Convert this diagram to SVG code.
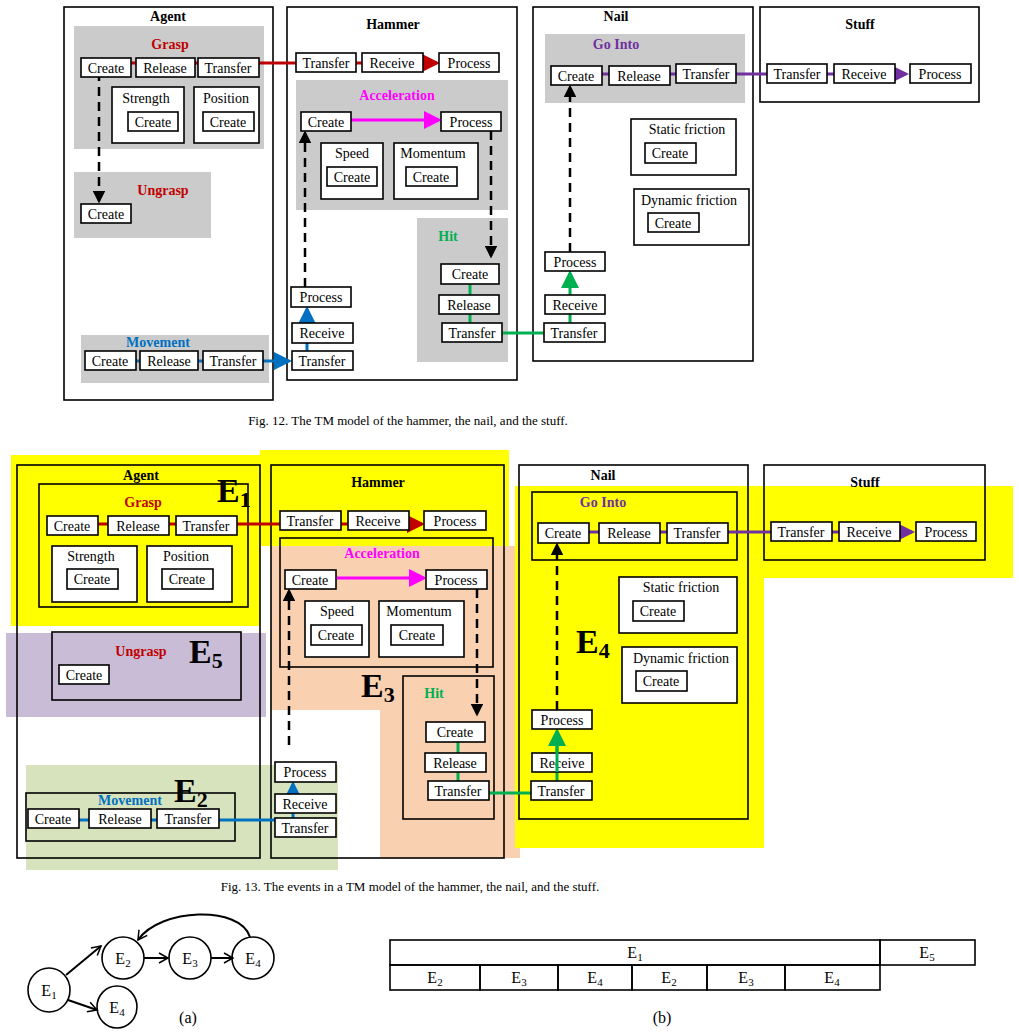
<svg xmlns="http://www.w3.org/2000/svg" width="1019" height="1035" viewBox="0 0 1019 1035">
<style>
.bx{fill:#fff;stroke:#000;stroke-width:1.6}
.ob{fill:none;stroke:#000;stroke-width:1.6}
.t{font-family:"Liberation Serif",serif;font-size:14px;text-anchor:middle;fill:#000}
.h{font-family:"Liberation Serif",serif;font-size:14px;font-weight:bold;text-anchor:middle}
.E{font-family:"Liberation Serif",serif;font-size:34px;font-weight:bold}
.cap{font-family:"Liberation Serif",serif;font-size:13px;text-anchor:middle}
.s{font-family:"Liberation Serif",serif;font-size:16px;text-anchor:middle}
.g{fill:#cbcbcb}
.dash{stroke:#000;stroke-width:2.5;stroke-dasharray:9,6;fill:none}
</style>
<defs>
<marker id="aR" markerWidth="6" markerHeight="6" refX="5" refY="3" orient="auto" markerUnits="strokeWidth"><path d="M0,0L6,3L0,6z" fill="#c00000"/></marker>
<marker id="aB" markerWidth="6" markerHeight="6" refX="5" refY="3" orient="auto" markerUnits="strokeWidth"><path d="M0,0L6,3L0,6z" fill="#0070c0"/></marker>
<marker id="aM" markerWidth="6" markerHeight="6" refX="5" refY="3" orient="auto" markerUnits="strokeWidth"><path d="M0,0L6,3L0,6z" fill="#ff00ff"/></marker>
<marker id="aG" markerWidth="6" markerHeight="6" refX="5" refY="3" orient="auto" markerUnits="strokeWidth"><path d="M0,0L6,3L0,6z" fill="#00b050"/></marker>
<marker id="aP" markerWidth="6" markerHeight="6" refX="5" refY="3" orient="auto" markerUnits="strokeWidth"><path d="M0,0L6,3L0,6z" fill="#7030a0"/></marker>
<marker id="aK" markerWidth="5" markerHeight="5" refX="4" refY="2.5" orient="auto" markerUnits="strokeWidth"><path d="M0,0L5,2.5L0,5z" fill="#000"/></marker>
<marker id="oa" markerWidth="12" markerHeight="12" refX="10" refY="6" orient="auto" markerUnits="userSpaceOnUse"><path d="M1,1L10,6L1,11" fill="none" stroke="#000" stroke-width="1.5"/></marker>
</defs>

<!-- ===== Fig 12 ===== -->
<g id="f12-containers">
<rect class="ob" x="64" y="7" width="209" height="393"/>
<text class="h" x="168" y="21">Agent</text>
<rect class="ob" x="287" y="7" width="230" height="373"/>
<text class="h" x="393" y="29">Hammer</text>
<rect class="ob" x="533" y="7" width="220" height="354"/>
<text class="h" x="616" y="21">Nail</text>
<rect class="ob" x="760" y="7" width="219" height="95"/>
<text class="h" x="860" y="29">Stuff</text>
<rect class="g" x="74" y="26" width="190" height="123"/>
<text class="h" x="170" y="49" fill="#c00000">Grasp</text>
<rect class="g" x="74" y="172" width="137" height="66"/>
<text class="h" x="163" y="195" fill="#c00000">Ungrasp</text>
<rect class="g" x="81" y="335" width="188" height="48"/>
<text class="h" x="158" y="347" fill="#0070c0">Movement</text>
<rect class="g" x="296" y="80" width="212" height="130"/>
<text class="h" x="397" y="100" fill="#ff00ff">Acceleration</text>
<rect class="g" x="417" y="218" width="91" height="144"/>
<text class="h" x="448" y="241" fill="#00b050">Hit</text>
<rect class="g" x="545" y="34" width="200" height="69"/>
<text class="h" x="616" y="49" fill="#7030a0">Go Into</text>
</g>

<g id="f12-connectors">
<line x1="110" y1="63" x2="437" y2="63" stroke="#c00000" stroke-width="3" marker-end="url(#aR)"/>
<line x1="99" y1="72" x2="99" y2="201" class="dash" marker-end="url(#aK)"/>
<line x1="110" y1="361" x2="289" y2="361" stroke="#0070c0" stroke-width="3" marker-end="url(#aB)"/>
<line x1="307" y1="352" x2="307" y2="309" stroke="#0070c0" stroke-width="3" marker-end="url(#aB)"/>
<line x1="305" y1="287" x2="305" y2="133" class="dash" marker-end="url(#aK)"/>
<line x1="351" y1="120" x2="439" y2="120" stroke="#ff00ff" stroke-width="3" marker-end="url(#aM)"/>
<line x1="491" y1="131" x2="491" y2="256" class="dash" marker-end="url(#aK)"/>
<line x1="470" y1="280" x2="470" y2="330" stroke="#00b050" stroke-width="3"/>
<line x1="502" y1="333" x2="545" y2="333" stroke="#00b050" stroke-width="3"/>
<line x1="570" y1="323" x2="570" y2="273" stroke="#00b050" stroke-width="3" marker-end="url(#aG)"/>
<line x1="570" y1="252" x2="570" y2="87" class="dash" marker-end="url(#aK)"/>
<line x1="590" y1="74" x2="906" y2="74" stroke="#7030a0" stroke-width="3" marker-end="url(#aP)"/>
</g>

<g id="f12-grasp">
<rect class="bx" x="81" y="58" width="50" height="19"/><text class="t" x="106" y="73">Create</text>
<rect class="bx" x="136" y="58" width="59" height="19"/><text class="t" x="165" y="73">Release</text>
<rect class="bx" x="198" y="58" width="61" height="19"/><text class="t" x="228" y="73">Transfer</text>
<rect class="bx" x="112" y="87" width="72" height="56"/><text class="t" x="146" y="103">Strength</text>
<rect class="bx" x="128" y="112" width="50" height="19"/><text class="t" x="153" y="127">Create</text>
<rect class="bx" x="194" y="87" width="65" height="56"/><text class="t" x="226" y="103">Position</text>
<rect class="bx" x="203" y="112" width="51" height="19"/><text class="t" x="228" y="127">Create</text>
</g>
<g id="f12-ungrasp"><rect class="bx" x="81" y="204" width="50" height="19"/><text class="t" x="106" y="219">Create</text></g>
<g id="f12-movement">
<rect class="bx" x="85" y="351" width="51" height="19"/><text class="t" x="110" y="366">Create</text>
<rect class="bx" x="140" y="351" width="58" height="19"/><text class="t" x="169" y="366">Release</text>
<rect class="bx" x="203" y="351" width="60" height="19"/><text class="t" x="233" y="366">Transfer</text>
</g>
<g id="f12-hammer">
<rect class="bx" x="296" y="53" width="60" height="19"/><text class="t" x="326" y="68">Transfer</text>
<rect class="bx" x="362" y="53" width="61" height="19"/><text class="t" x="392" y="68">Receive</text>
<rect class="bx" x="439" y="53" width="60" height="19"/><text class="t" x="469" y="68">Process</text>
<rect class="bx" x="301" y="112" width="50" height="19"/><text class="t" x="326" y="127">Create</text>
<rect class="bx" x="441" y="112" width="60" height="19"/><text class="t" x="471" y="127">Process</text>
<rect class="bx" x="321" y="143" width="62" height="56"/><text class="t" x="352" y="158">Speed</text>
<rect class="bx" x="327" y="167" width="50" height="19"/><text class="t" x="352" y="182">Create</text>
<rect class="bx" x="394" y="143" width="84" height="56"/><text class="t" x="433" y="158">Momentum</text>
<rect class="bx" x="406" y="167" width="51" height="19"/><text class="t" x="431" y="182">Create</text>
<rect class="bx" x="441" y="264" width="58" height="20"/><text class="t" x="470" y="279">Create</text>
<rect class="bx" x="439" y="295" width="60" height="19"/><text class="t" x="469" y="310">Release</text>
<rect class="bx" x="442" y="323" width="60" height="19"/><text class="t" x="472" y="338">Transfer</text>
<rect class="bx" x="291" y="287" width="60" height="20"/><text class="t" x="321" y="302">Process</text>
<rect class="bx" x="292" y="323" width="61" height="20"/><text class="t" x="322" y="338">Receive</text>
<rect class="bx" x="292" y="351" width="61" height="19"/><text class="t" x="322" y="366">Transfer</text>
</g>
<g id="f12-nail">
<rect class="bx" x="551" y="66" width="51" height="19"/><text class="t" x="576" y="81">Create</text>
<rect class="bx" x="609" y="66" width="61" height="19"/><text class="t" x="639" y="81">Release</text>
<rect class="bx" x="676" y="64" width="60" height="19"/><text class="t" x="706" y="79">Transfer</text>
<rect class="bx" x="631" y="119" width="105" height="56"/><text class="t" x="687" y="134">Static friction</text>
<rect class="bx" x="645" y="143" width="51" height="20"/><text class="t" x="670" y="158">Create</text>
<rect class="bx" x="634" y="189" width="115" height="56"/><text class="t" x="689" y="205">Dynamic friction</text>
<rect class="bx" x="648" y="213" width="51" height="19"/><text class="t" x="673" y="228">Create</text>
<rect class="bx" x="545" y="252" width="60" height="19"/><text class="t" x="575" y="267">Process</text>
<rect class="bx" x="545" y="295" width="60" height="19"/><text class="t" x="575" y="310">Receive</text>
<rect class="bx" x="544" y="323" width="61" height="19"/><text class="t" x="574" y="338">Transfer</text>
</g>
<g id="f12-stuff">
<rect class="bx" x="767" y="64" width="60" height="19"/><text class="t" x="797" y="79">Transfer</text>
<rect class="bx" x="834" y="64" width="61" height="19"/><text class="t" x="864" y="79">Receive</text>
<rect class="bx" x="910" y="64" width="61" height="19"/><text class="t" x="940" y="79">Process</text>
</g>
<text class="cap" x="408" y="425">Fig. 12. The TM model of the hammer, the nail, and the stuff.</text>

<!-- ===== Fig 13 ===== -->
<g id="f13-events">
<rect x="11" y="455" width="249" height="171" fill="#ffff00"/>
<rect x="260" y="450" width="249" height="96" fill="#ffff00"/>
<path d="M271,546H520V858H380V710H271z" fill="#f9d1b0"/>
<rect x="6" y="633" width="260" height="84" fill="#c9bcd6"/>
<rect x="26" y="765" width="312" height="105" fill="#d7e3bc"/>
<path d="M515,486H1013V578H764V848H515z" fill="#ffff00"/>
</g>
<g id="f13-containers">
<rect class="ob" x="17" y="465" width="243" height="393"/>
<text class="h" x="141" y="480">Agent</text>
<rect class="ob" x="271" y="465" width="233" height="393"/>
<text class="h" x="378" y="487">Hammer</text>
<rect class="ob" x="519" y="465" width="229" height="354"/>
<text class="h" x="603" y="480">Nail</text>
<rect class="ob" x="764" y="465" width="221" height="95"/>
<text class="h" x="865" y="487">Stuff</text>
<rect class="ob" x="39" y="484" width="209" height="123"/>
<text class="h" x="143" y="507" fill="#c00000">Grasp</text>
<rect class="ob" x="52" y="632" width="189" height="68"/>
<text class="h" x="141" y="656" fill="#c00000">Ungrasp</text>
<rect class="ob" x="26" y="793" width="209" height="48"/>
<text class="h" x="130" y="805" fill="#0070c0">Movement</text>
<rect class="ob" x="280" y="538" width="213" height="129"/>
<text class="h" x="382" y="558" fill="#ff00ff">Acceleration</text>
<rect class="ob" x="403" y="676" width="91" height="143"/>
<text class="h" x="434" y="698" fill="#00b050">Hit</text>
<rect class="ob" x="532" y="492" width="205" height="68"/>
<text class="h" x="603" y="507" fill="#7030a0">Go Into</text>
<text class="E" x="217" y="502">E<tspan font-size="22" dy="5">1</tspan></text>
<text class="E" x="189" y="663">E<tspan font-size="22" dy="5">5</tspan></text>
<text class="E" x="361" y="697">E<tspan font-size="22" dy="5">3</tspan></text>
<text class="E" x="174" y="802">E<tspan font-size="22" dy="5">2</tspan></text>
<text class="E" x="576" y="653">E<tspan font-size="22" dy="5">4</tspan></text>
</g>

<g id="f13-connectors">
<line x1="80" y1="524" x2="422" y2="524" stroke="#c00000" stroke-width="3" marker-end="url(#aR)"/>
<line x1="60" y1="820" x2="276" y2="820" stroke="#0070c0" stroke-width="3"/>
<line x1="293" y1="818" x2="293" y2="784" stroke="#0070c0" stroke-width="3" marker-end="url(#aB)"/>
<line x1="289" y1="745" x2="289" y2="591" class="dash" marker-end="url(#aK)"/>
<line x1="336" y1="578" x2="424" y2="578" stroke="#ff00ff" stroke-width="3" marker-end="url(#aM)"/>
<line x1="477" y1="589" x2="477" y2="714" class="dash" marker-end="url(#aK)"/>
<line x1="458" y1="738" x2="458" y2="786" stroke="#00b050" stroke-width="3"/>
<line x1="489" y1="793" x2="531" y2="793" stroke="#00b050" stroke-width="3"/>
<line x1="557" y1="781" x2="557" y2="731" stroke="#00b050" stroke-width="3" marker-end="url(#aG)"/>
<line x1="557" y1="710" x2="557" y2="545" class="dash" marker-end="url(#aK)"/>
<line x1="575" y1="532" x2="912" y2="532" stroke="#7030a0" stroke-width="3" marker-end="url(#aP)"/>
</g>

<g id="f13-grasp">
<rect class="bx" x="47" y="516" width="51" height="19"/><text class="t" x="72" y="531">Create</text>
<rect class="bx" x="108" y="516" width="61" height="19"/><text class="t" x="138" y="531">Release</text>
<rect class="bx" x="176" y="516" width="61" height="19"/><text class="t" x="206" y="531">Transfer</text>
<rect class="bx" x="52" y="546" width="85" height="56"/><text class="t" x="91" y="561">Strength</text>
<rect class="bx" x="67" y="569" width="51" height="20"/><text class="t" x="92" y="584">Create</text>
<rect class="bx" x="147" y="546" width="85" height="56"/><text class="t" x="186" y="561">Position</text>
<rect class="bx" x="162" y="569" width="51" height="20"/><text class="t" x="187" y="584">Create</text>
</g>
<g id="f13-ungrasp"><rect class="bx" x="59" y="665" width="50" height="19"/><text class="t" x="84" y="680">Create</text></g>
<g id="f13-movement">
<rect class="bx" x="28" y="809" width="51" height="19"/><text class="t" x="53" y="824">Create</text>
<rect class="bx" x="89" y="809" width="62" height="19"/><text class="t" x="120" y="824">Release</text>
<rect class="bx" x="157" y="809" width="62" height="19"/><text class="t" x="188" y="824">Transfer</text>
</g>
<g id="f13-hammer">
<rect class="bx" x="280" y="511" width="61" height="19"/><text class="t" x="310" y="526">Transfer</text>
<rect class="bx" x="348" y="511" width="61" height="19"/><text class="t" x="378" y="526">Receive</text>
<rect class="bx" x="424" y="511" width="62" height="19"/><text class="t" x="455" y="526">Process</text>
<rect class="bx" x="285" y="570" width="51" height="19"/><text class="t" x="310" y="585">Create</text>
<rect class="bx" x="426" y="570" width="61" height="19"/><text class="t" x="456" y="585">Process</text>
<rect class="bx" x="305" y="601" width="64" height="56"/><text class="t" x="337" y="616">Speed</text>
<rect class="bx" x="311" y="625" width="51" height="20"/><text class="t" x="336" y="640">Create</text>
<rect class="bx" x="379" y="601" width="85" height="56"/><text class="t" x="419" y="616">Momentum</text>
<rect class="bx" x="391" y="625" width="52" height="20"/><text class="t" x="417" y="640">Create</text>
<rect class="bx" x="426" y="722" width="59" height="20"/><text class="t" x="455" y="737">Create</text>
<rect class="bx" x="425" y="753" width="61" height="19"/><text class="t" x="455" y="768">Release</text>
<rect class="bx" x="428" y="781" width="61" height="19"/><text class="t" x="458" y="796">Transfer</text>
<rect class="bx" x="275" y="762" width="61" height="20"/><text class="t" x="305" y="777">Process</text>
<rect class="bx" x="275" y="794" width="61" height="19"/><text class="t" x="305" y="809">Receive</text>
<rect class="bx" x="275" y="818" width="61" height="19"/><text class="t" x="305" y="833">Transfer</text>
</g>
<g id="f13-nail">
<rect class="bx" x="538" y="523" width="51" height="20"/><text class="t" x="563" y="538">Create</text>
<rect class="bx" x="599" y="523" width="61" height="20"/><text class="t" x="629" y="538">Release</text>
<rect class="bx" x="667" y="523" width="61" height="20"/><text class="t" x="697" y="538">Transfer</text>
<rect class="bx" x="619" y="577" width="118" height="56"/><text class="t" x="681" y="592">Static friction</text>
<rect class="bx" x="633" y="601" width="51" height="20"/><text class="t" x="658" y="616">Create</text>
<rect class="bx" x="622" y="647" width="115" height="56"/><text class="t" x="681" y="663">Dynamic friction</text>
<rect class="bx" x="636" y="671" width="51" height="20"/><text class="t" x="661" y="686">Create</text>
<rect class="bx" x="532" y="710" width="60" height="19"/><text class="t" x="562" y="725">Process</text>
<rect class="bx" x="532" y="753" width="60" height="19"/><text class="t" x="562" y="768">Receive</text>
<rect class="bx" x="531" y="781" width="61" height="19"/><text class="t" x="561" y="796">Transfer</text>
<line x1="557" y1="772" x2="557" y2="742" stroke="#00b050" stroke-width="3"/>
</g>
<g id="f13-stuff">
<rect class="bx" x="771" y="522" width="61" height="19"/><text class="t" x="801" y="537">Transfer</text>
<rect class="bx" x="839" y="522" width="61" height="19"/><text class="t" x="869" y="537">Receive</text>
<rect class="bx" x="916" y="522" width="60" height="19"/><text class="t" x="946" y="537">Process</text>
</g>
<text class="cap" x="410" y="891">Fig. 13. The events in a TM model of the hammer, the nail, and the stuff.</text>

<!-- ===== Bottom (a) ===== -->
<g id="a-E1"><ellipse cx="49" cy="990" rx="21" ry="22" class="ob"/><text class="s" x="49" y="996">E<tspan font-size="11" dy="3">1</tspan></text></g>
<g id="a-E2"><ellipse cx="123" cy="958" rx="21" ry="21" class="ob"/><text class="s" x="123" y="964">E<tspan font-size="11" dy="3">2</tspan></text></g>
<g id="a-E3"><ellipse cx="190" cy="958" rx="21" ry="21" class="ob"/><text class="s" x="190" y="964">E<tspan font-size="11" dy="3">3</tspan></text></g>
<g id="a-E4"><ellipse cx="253" cy="958" rx="21" ry="21" class="ob"/><text class="s" x="253" y="964">E<tspan font-size="11" dy="3">4</tspan></text></g>
<g id="a-E4b"><ellipse cx="117" cy="1007" rx="20" ry="21" class="ob"/><text class="s" x="117" y="1013">E<tspan font-size="11" dy="3">4</tspan></text></g>
<g id="a-connectors" fill="none" stroke="#000" stroke-width="2">
<line x1="66" y1="975" x2="101" y2="946" marker-end="url(#oa)"/>
<line x1="68" y1="1000" x2="97" y2="1010" marker-end="url(#oa)"/>
<line x1="144" y1="958" x2="168" y2="958" marker-end="url(#oa)"/>
<line x1="211" y1="958" x2="233" y2="958" marker-end="url(#oa)"/>
<path d="M250,937C240,905 160,908 138,940" marker-end="url(#oa)"/>
</g>
<text class="s" x="188" y="1023" font-size="14">(a)</text>

<!-- ===== Bottom (b) ===== -->
<g id="b-table">
<rect class="ob" x="390" y="940" width="490" height="25"/><text class="s" x="635" y="958">E<tspan font-size="11" dy="3">1</tspan></text>
<rect class="ob" x="880" y="940" width="95" height="25"/><text class="s" x="927" y="958">E<tspan font-size="11" dy="3">5</tspan></text>
<rect class="ob" x="390" y="965" width="90" height="25"/><text class="s" x="435" y="983">E<tspan font-size="11" dy="3">2</tspan></text>
<rect class="ob" x="480" y="965" width="78" height="25"/><text class="s" x="519" y="983">E<tspan font-size="11" dy="3">3</tspan></text>
<rect class="ob" x="558" y="965" width="74" height="25"/><text class="s" x="595" y="983">E<tspan font-size="11" dy="3">4</tspan></text>
<rect class="ob" x="632" y="965" width="75" height="25"/><text class="s" x="669" y="983">E<tspan font-size="11" dy="3">2</tspan></text>
<rect class="ob" x="707" y="965" width="78" height="25"/><text class="s" x="746" y="983">E<tspan font-size="11" dy="3">3</tspan></text>
<rect class="ob" x="785" y="965" width="95" height="25"/><text class="s" x="832" y="983">E<tspan font-size="11" dy="3">4</tspan></text>
</g>
<text class="s" x="662" y="1023" font-size="14">(b)</text>
</svg>
